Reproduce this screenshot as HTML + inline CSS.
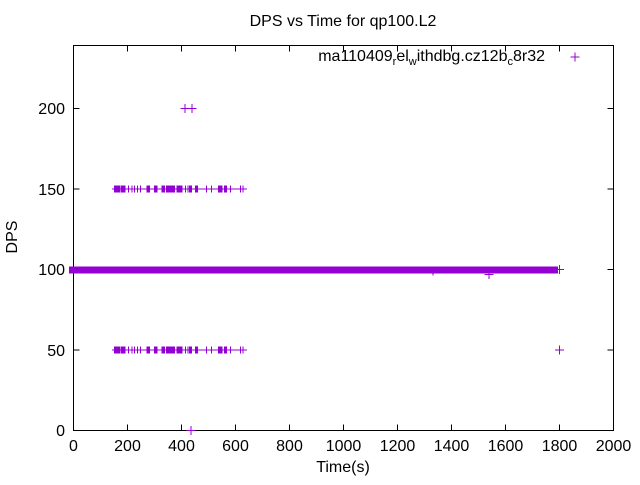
<!DOCTYPE html>
<html><head><meta charset="utf-8"><style>
html,body{margin:0;padding:0;background:#fff}
svg text{font-family:"Liberation Sans",sans-serif;font-size:16px;fill:#000}
</style></head><body>
<svg width="640" height="480" xmlns="http://www.w3.org/2000/svg">
<defs>
<g id="p"><path d="M-4.5 0H4.5M0 -4.5V4.5" stroke="#9400d3" stroke-width="1" fill="none"/></g>
<g id="row">
<rect x="112" y="-0.5" width="135" height="1" fill="#9400d3"/>
<g fill="#9400d3">
<rect x="114" y="-3.5" width="6" height="7"/>
<rect x="120.5" y="-3.5" width="5" height="7"/>
<rect x="128" y="-3.5" width="1" height="7"/>
<rect x="131.5" y="-3.5" width="1" height="7"/>
<rect x="134" y="-3.5" width="1" height="7"/>
<rect x="137" y="-3.5" width="1" height="7"/>
<rect x="140" y="-3.5" width="1" height="7"/>
<rect x="146.5" y="-3.5" width="3.5" height="7"/>
<rect x="154" y="-3.5" width="3.5" height="7"/>
<rect x="161.5" y="-3.5" width="3.5" height="7"/>
<rect x="166" y="-3.5" width="9" height="7"/>
<rect x="176.5" y="-3.5" width="6" height="7"/>
<rect x="185" y="-3.5" width="1" height="7"/>
<rect x="187.5" y="-3.5" width="1" height="7"/>
<rect x="189" y="-3.5" width="3" height="7"/>
<rect x="195" y="-3.5" width="3" height="7"/>
<rect x="206" y="-3.5" width="1" height="7"/>
<rect x="211" y="-3.5" width="1" height="7"/>
<rect x="218" y="-3.5" width="4.5" height="7"/>
<rect x="224" y="-3.5" width="3" height="7"/>
<rect x="230" y="-3.5" width="1" height="7"/>
<rect x="240" y="-3.5" width="1" height="7"/>
<rect x="242.5" y="-3.5" width="1" height="7"/>
</g>
</g>
</defs>
<text x="343" y="26" text-anchor="middle">DPS vs Time for qp100.L2</text>
<rect x="73.5" y="45.5" width="540" height="385" fill="none" stroke="#000" stroke-width="1"/>
<g stroke="#000" stroke-width="1">
<path d="M73.5 430.5h6M613.5 430.5h-6M73.5 350h6M613.5 350h-6M73.5 269.5h6M613.5 269.5h-6M73.5 189h6M613.5 189h-6M73.5 108.5h6M613.5 108.5h-6"/>
<path d="M127.5 430.5v-6M181.5 430.5v-6M235.5 430.5v-6M289.5 430.5v-6M343.5 430.5v-6M397.5 430.5v-6M451.5 430.5v-6M505.5 430.5v-6M559.5 430.5v-6"/>
<path d="M127.5 45.5v6M181.5 45.5v6M235.5 45.5v6M289.5 45.5v6M343.5 45.5v6M397.5 45.5v6M451.5 45.5v6M505.5 45.5v6M559.5 45.5v6"/>
</g>
<g text-anchor="end">
<text x="65" y="436">0</text><text x="65" y="356">50</text><text x="65" y="275">100</text><text x="65" y="195">150</text><text x="65" y="114">200</text>
</g>
<g text-anchor="middle">
<text x="73.5" y="451">0</text><text x="127.5" y="451">200</text><text x="181.5" y="451">400</text><text x="235.5" y="451">600</text><text x="289.5" y="451">800</text><text x="343.5" y="451">1000</text><text x="397.5" y="451">1200</text><text x="451.5" y="451">1400</text><text x="505.5" y="451">1600</text><text x="559.5" y="451">1800</text><text x="613.5" y="451">2000</text>
</g>
<text x="343" y="472" text-anchor="middle">Time(s)</text>
<text transform="translate(17,237) rotate(-90)" text-anchor="middle">DPS</text>
<text x="545" y="61" text-anchor="end">ma110409<tspan font-size="11" dy="4">r</tspan><tspan dy="-4">el</tspan><tspan font-size="11" dy="4">w</tspan><tspan dy="-4">ithdbg.cz12b</tspan><tspan font-size="11" dy="4">c</tspan><tspan dy="-4">8r32</tspan></text>
<use href="#p" x="575" y="57"/>
<rect x="69" y="266.5" width="489" height="7" fill="#9400d3"/>
<use href="#p" x="559.5" y="269.5"/>
<use href="#p" x="433" y="271"/>
<use href="#p" x="489" y="274.5"/>
<use href="#p" x="185" y="108.5"/>
<use href="#p" x="192" y="108.5"/>
<use href="#p" x="559.5" y="350"/>
<use href="#p" x="191" y="430.5"/>
<use href="#row" x="0" y="189"/>
<use href="#row" x="0" y="350"/>
</svg>
</body></html>
